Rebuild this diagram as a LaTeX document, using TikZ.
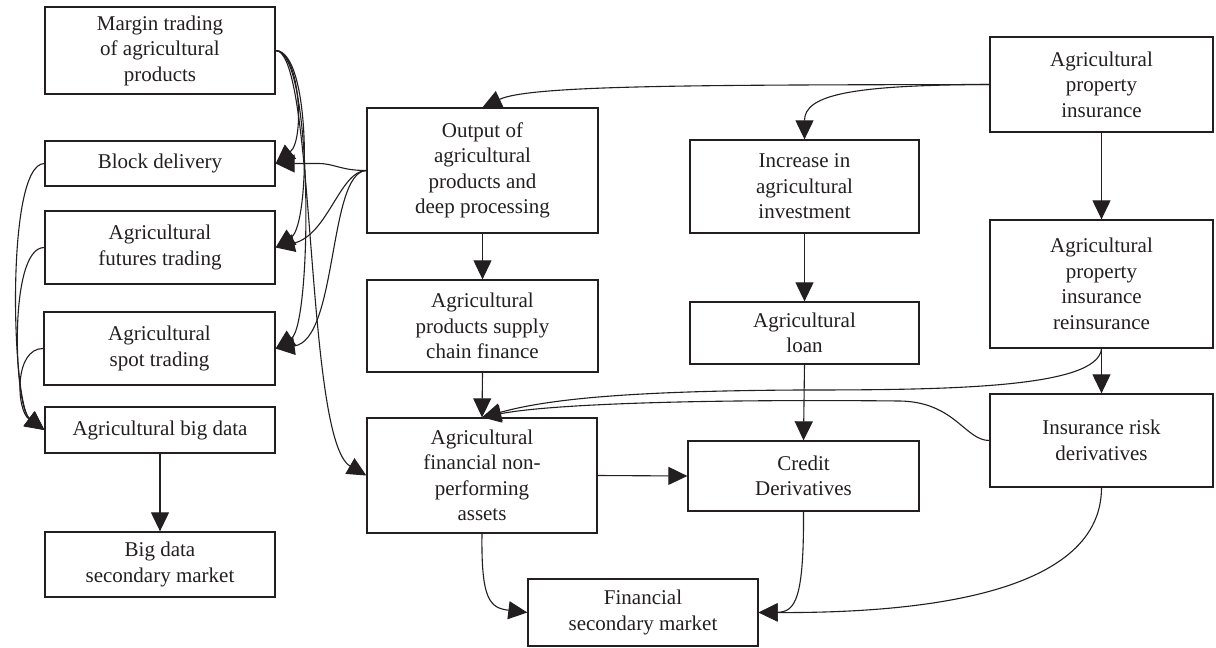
\documentclass[tikz,border=0pt]{standalone}
\usepackage{fontspec}
\setmainfont{Liberation Serif}
\usetikzlibrary{arrows.meta}
\definecolor{ink}{HTML}{231F20}
\begin{document}
\begin{tikzpicture}[x=1pt,y=-1pt,
  box/.style={draw=ink, line width=1.3pt, inner sep=0pt, align=center, text=ink,
    font=\fontsize{21}{25.5}\selectfont},
  link/.style={draw=ink, line width=1.1pt, -{Triangle[length=19pt,width=18pt]}}]
\useasboundingbox (0,0) rectangle (1216,648);
\fill[white] (0,0) rectangle (1216,648);

% left column
\node[box, minimum width=230pt, minimum height=87pt] (margin) at (160,50.5) {Margin trading\\of agricultural\\products};
\node[box, minimum width=230pt, minimum height=45pt] (block) at (160,163.5) {Block delivery};
\node[box, minimum width=230pt, minimum height=73pt] (futures) at (160,247.5) {Agricultural\\futures trading};
\node[box, minimum width=231pt, minimum height=73pt] (spot) at (159.5,348.5) {Agricultural\\spot trading};
\node[box, minimum width=230pt, minimum height=46pt] (bigdata) at (160,430) {Agricultural big data};
\node[box, minimum width=230pt, minimum height=65pt] (bdsec) at (160,564.5) {Big data\\secondary market};

% middle column
\node[box, minimum width=231pt, minimum height=125pt] (output) at (482.5,170.5) {Output of\\agricultural\\products and\\deep processing};
\node[box, minimum width=231pt, minimum height=92pt] (supply) at (482.5,326) {Agricultural\\products supply\\chain finance};
\node[box, minimum width=230pt, minimum height=115pt] (npa) at (482,475.5) {Agricultural\\financial non-\\performing\\assets};
\node[box, minimum width=230pt, minimum height=67pt] (fin) at (643,612.5) {Financial\\secondary market};

% third column
\node[box, minimum width=229pt, minimum height=93pt] (increase) at (804.5,186.5) {Increase in\\agricultural\\investment};
\node[box, minimum width=229pt, minimum height=62pt] (loan) at (804.5,333) {Agricultural\\loan};
\node[box, minimum width=231pt, minimum height=70pt] (credit) at (803.5,476) {Credit\\Derivatives};

% right column
\node[box, minimum width=223pt, minimum height=95pt] (prop) at (1101.5,84.5) {Agricultural\\property\\insurance};
\node[box, minimum width=223pt, minimum height=128pt] (reins) at (1101.5,284) {Agricultural\\property\\insurance\\reinsurance};
\node[box, minimum width=223pt, minimum height=93pt] (insrisk) at (1101.5,440.5) {Insurance risk\\derivatives};

% margin trading fans out to the trading boxes and the NPA box
\draw[link] (margin.east) .. controls (300,51) and (305,140) .. (block.east);
\draw[link] (margin.east) .. controls (312,51) and (310,225) .. (futures.east);
\draw[link] (margin.east) .. controls (314,51) and (312,325) .. (spot.east);
\draw[link] (margin.east) .. controls (316,51) and (305,440) .. (npa.west);

% output feeds the trading boxes
\draw[link] (output.west) .. controls (340,170.5) and (335,163.5) .. (318,163.5) -- (block.east);
\draw[link] (output.west) .. controls (340,170.5) and (328,235) .. (futures.east);
\draw[link] (output.west) .. controls (328,172) and (338,340) .. (spot.east);

% trading boxes feed big data
\draw[link] (block.west) .. controls (5,164) and (12,405) .. (bigdata.west);
\draw[link] (futures.west) .. controls (8,247) and (14,407) .. (bigdata.west);
\draw[link] (spot.west) .. controls (14,348) and (16,410) .. (bigdata.west);
\draw[link] (bigdata.south) -- (bdsec.north);

% vertical chains
\draw[link] (output.south) -- (supply.north);
\draw[link] (supply.south) -- (npa.north);
\draw[link] (increase.south) -- (loan.north);
\draw[link] (loan.south) -- (credit.north);
\draw[link] (prop.south) -- (reins.north);
\draw[link] (reins.south) -- (insrisk.north);
\draw[link] (npa.east) -- (credit.west);

% property insurance branches
\draw[link] (prop.west) .. controls (700,85) and (530,85) .. (output.north);
\draw[link] (prop.west) .. controls (850,85) and (804.5,95) .. (increase.north);

% long links back to the NPA box
\draw[link] (reins.south) .. controls (1098,388) and (950,390) .. (800,390)
  .. controls (620,391) and (545,400) .. (npa.north);
\draw[link] (insrisk.west) .. controls (965,440.5) and (955,402) .. (900,401)
  .. controls (700,399) and (550,404) .. (npa.north);

% into the financial secondary market
\draw[link] (npa.south) .. controls (481,600) and (490,608) .. (fin.west);
\draw[link] (credit.south) .. controls (804,600) and (795,612) .. (fin.east);
\draw[link] (insrisk.south) .. controls (1101.5,600) and (900,613) .. (fin.east);
\end{tikzpicture}
\end{document}
